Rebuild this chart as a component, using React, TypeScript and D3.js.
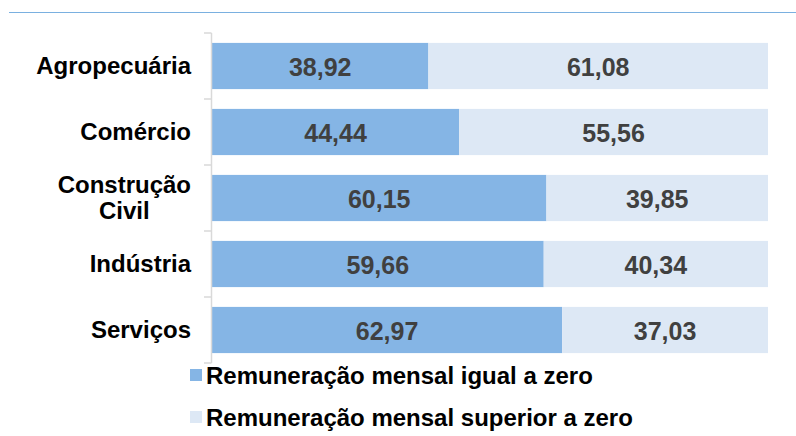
import React, { useEffect, useRef } from "react";
import * as d3 from "d3";

// Categories and series values (percent)
const categories = ["Agropecuária", "Comércio", "Construção Civil", "Indústria", "Serviços"];
const igualZero = [38.92, 44.44, 60.15, 59.66, 62.97];
const superiorZero = [61.08, 55.56, 39.85, 40.34, 37.03];
const seriesNames = ["Remuneração mensal igual a zero", "Remuneração mensal superior a zero"];
const seriesColors = ["#85b5e5", "#dde8f5"];

const width = 796;
const height = 436;
const font = "'Liberation Sans', Arial, sans-serif";

const drawChart = (node: SVGSVGElement) => {
    const svg = d3.select(node);
    svg.selectAll("*").remove();

    // Top rule
    svg.append("line")
        .attr("x1", 9).attr("x2", width)
        .attr("y1", 12.5).attr("y2", 12.5)
        .attr("stroke", "#7ab0e0")
        .attr("stroke-width", 1);

    const x = d3.scaleLinear().domain([0, 100]).range([212, 768]);
    const y = d3.scaleBand<string>()
        .domain(categories)
        .range([33, 363])
        .paddingInner(0.3)
        .paddingOuter(0.15);

    const rows = categories.map((c, i) => ({ name: c, values: [igualZero[i], superiorZero[i]] }));
    const stack = d3.stack<any>()
        .keys(["0", "1"])
        .value((d, k) => d.values[+k]);
    const stacked = stack(rows);

    // Bars
    stacked.forEach((layer, si) => {
        const g = svg.append("g");
        g.selectAll("rect")
            .data(layer)
            .enter().append("rect")
            .attr("x", d => x(d[0]))
            .attr("width", d => x(d[1]) - x(d[0]))
            .attr("y", d => y(d.data.name)!)
            .attr("height", y.bandwidth())
            .attr("fill", seriesColors[si]);

        g.selectAll("text")
            .data(layer)
            .enter().append("text")
            .attr("x", d => (x(d[0]) + x(d[1])) / 2)
            .attr("y", d => y(d.data.name)! + y.bandwidth() / 2 + 1)
            .attr("dy", "0.35em")
            .attr("text-anchor", "middle")
            .attr("font-family", font)
            .attr("font-weight", "bold")
            .attr("font-size", 25)
            .attr("fill", "#404040")
            .text(d => (d[1] - d[0]).toFixed(2).replace(".", ","));
    });

    // Vertical axis line and ticks
    const step = y.step();
    const y0 = y.range()[0];
    svg.append("line")
        .attr("x1", 211.5).attr("x2", 211.5)
        .attr("y1", y0).attr("y2", y0 + step * categories.length)
        .attr("stroke", "#d9d9d9")
        .attr("stroke-width", 1.5);
    d3.range(categories.length + 1).forEach(i => {
        svg.append("line")
            .attr("x1", 204).attr("x2", 211.5)
            .attr("y1", y0 + i * step).attr("y2", y0 + i * step)
            .attr("stroke", "#d9d9d9")
            .attr("stroke-width", 1.5);
    });

    // Category labels (multi-line labels are centred on their widest line)
    const labelRight = 191;
    categories.forEach(c => {
        const words = c === "Construção Civil" ? ["Construção", "Civil"] : [c];
        const cy = y(c)! + y.bandwidth() / 2;
        const t = svg.append("text")
            .attr("font-family", font)
            .attr("font-weight", "bold")
            .attr("font-size", 24)
            .attr("fill", "#000");
        const spans = words.map((w, i) =>
            t.append("tspan")
                .attr("y", cy + (i - (words.length - 1) / 2) * 26)
                .attr("dy", "0.35em")
                .text(w)
        );
        if (words.length === 1) {
            t.attr("text-anchor", "end");
            spans[0].attr("x", labelRight);
        } else {
            const widest = d3.max(spans, s => (s.node() as SVGTSpanElement).getComputedTextLength()) || 0;
            t.attr("text-anchor", "middle");
            spans.forEach(s => s.attr("x", labelRight - widest / 2));
        }
    });

    // Legend
    seriesNames.forEach((s, i) => {
        const ly = 376 + i * 42;
        svg.append("rect")
            .attr("x", 190).attr("y", ly - 7)
            .attr("width", 12).attr("height", 12)
            .attr("fill", seriesColors[i]);
        svg.append("text")
            .attr("x", 206).attr("y", ly)
            .attr("dy", "0.35em")
            .attr("font-family", font)
            .attr("font-weight", "bold")
            .attr("font-size", 24)
            .attr("fill", "#000")
            .text(s);
    });
};

export default function App() {
    const ref = useRef<SVGSVGElement>(null);
    useEffect(() => {
        if (ref.current) drawChart(ref.current);
    }, []);
    return (
        <svg
            ref={ref}
            width={width}
            height={height}
            style={{ position: "absolute", left: 0, top: 0, background: "#fff" }}
        />
    );
}
